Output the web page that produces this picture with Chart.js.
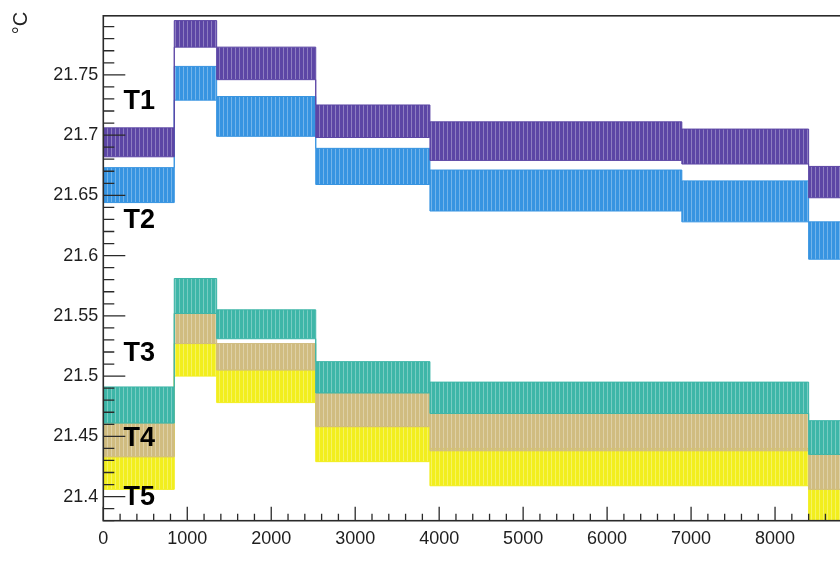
<!DOCTYPE html>
<html>
<head>
<meta charset="utf-8">
<script src="https://cdn.jsdelivr.net/npm/chart.js@4.4.1/dist/chart.umd.min.js"></script>
<style>
  html, body { margin: 0; padding: 0; background: #fff; overflow: hidden; }
  #wrap { width: 905px; height: 562px; }
</style>
</head>
<body>
<div id="wrap"><canvas id="tempChart"></canvas></div>
<script>
// Dados: início de cada patamar (eixo x) e faixa (mín/máx) de cada sensor
const stepStarts = [0, 845, 1350, 2530, 3890, 6890, 8400];
const runEnd = 9500;

const seriesNames = ['T1', 'T2', 'T3', 'T4', 'T5'];
const t1Low  = [21.682, 21.773, 21.746, 21.698, 21.679, 21.676, 21.648];
const t1High = [21.706, 21.795, 21.773, 21.725, 21.711, 21.705, 21.674];
const t2Low  = [21.644, 21.729, 21.699, 21.659, 21.637, 21.628, 21.597];
const t2High = [21.673, 21.757, 21.732, 21.689, 21.671, 21.662, 21.628];
const t3Low  = [21.461, 21.552, 21.531, 21.486, 21.469, 21.469, 21.435];
const t3High = [21.491, 21.581, 21.555, 21.512, 21.495, 21.495, 21.463];
const t4Low  = [21.433, 21.527, 21.505, 21.458, 21.438, 21.438, 21.406];
const t4High = [21.461, 21.552, 21.527, 21.486, 21.469, 21.469, 21.435];
const t5Low  = [21.406, 21.500, 21.478, 21.429, 21.409, 21.409, 21.377];
const t5High = [21.433, 21.527, 21.505, 21.458, 21.440, 21.440, 21.406];

// Posição dos rótulos T1..T5 (em unidades dos eixos)
const labelX = 240;
const labelY = [21.728, 21.629, 21.519, 21.448, 21.399];

const xTicks = [0, 1000, 2000, 3000, 4000, 5000, 6000, 7000, 8000];
const yTicks = [21.4, 21.45, 21.5, 21.55, 21.6, 21.65, 21.7, 21.75];

const lows = [t1Low, t2Low, t3Low, t4Low, t5Low];
const highs = [t1High, t2High, t3High, t4High, t5High];
const colors = [[92, 70, 165], [55, 148, 225], [62, 182, 168], [208, 188, 128], [242, 238, 30]];

function rgb(c, a) {
    return 'rgba(' + c[0] + ',' + c[1] + ',' + c[2] + ',' + (a === undefined ? 1 : a) + ')';
}

// Textura vertical leve para lembrar o ruído das medições
function stripePattern(c) {
    const p = document.createElement('canvas');
    p.width = 4;
    p.height = 1;
    const pc = p.getContext('2d');
    pc.fillStyle = rgb(c);
    pc.fillRect(0, 0, 3, 1);
    pc.fillStyle = rgb(c, 0.7);
    pc.fillRect(3, 0, 1, 1);
    return document.getElementById('tempChart').getContext('2d').createPattern(p, 'repeat');
}

function bandPoints(values) {
    const pts = stepStarts.map((x, i) => ({ x: x, y: values[i] }));
    pts.push({ x: runEnd, y: values[values.length - 1] });
    return pts;
}

const datasets = [];
seriesNames.forEach((name, i) => {
    // ordem: T5 por cima, T1 por baixo
    datasets.push({
        label: name + ' max',
        data: bandPoints(highs[i]),
        borderColor: rgb(colors[i]),
        backgroundColor: stripePattern(colors[i]),
        borderWidth: 1,
        pointRadius: 0,
        stepped: 'before',
        fill: '+1',
        order: i + 1
    });
    datasets.push({
        label: name + ' min',
        data: bandPoints(lows[i]),
        borderColor: rgb(colors[i]),
        borderWidth: 1,
        pointRadius: 0,
        stepped: 'before',
        fill: false,
        order: i + 1
    });
});

// Moldura, marcas de escala internas (estilo ROOT), rótulos e unidade
const frameAndTicks = {
    id: 'frameAndTicks',
    afterDatasetsDraw(chart) {
        const ctx = chart.ctx;
        const area = chart.chartArea;
        const xs = chart.scales.x;
        const ys = chart.scales.y;
        ctx.save();
        ctx.strokeStyle = '#2a2a2a';
        ctx.lineWidth = 1.6;
        ctx.strokeRect(area.left, area.top, area.right - area.left, area.bottom - area.top);

        ctx.lineWidth = 1.3;
        ctx.beginPath();
        for (let v = 0; v <= xs.max; v += 200) {
            const px = xs.getPixelForValue(v);
            const len = v % 1000 === 0 ? 14 : 7;
            ctx.moveTo(px, area.bottom);
            ctx.lineTo(px, area.bottom - len);
        }
        for (let k = Math.ceil(ys.min * 100); k <= Math.floor(ys.max * 100); k++) {
            const py = ys.getPixelForValue(k / 100);
            const len = k % 5 === 0 ? 22 : 11;
            ctx.moveTo(area.left, py);
            ctx.lineTo(area.left + len, py);
        }
        ctx.stroke();

        ctx.fillStyle = '#000';
        ctx.font = 'bold 27px "Liberation Sans", Arial, sans-serif';
        ctx.textAlign = 'left';
        ctx.textBaseline = 'middle';
        seriesNames.forEach((name, i) => {
            ctx.fillText(name, xs.getPixelForValue(labelX), ys.getPixelForValue(labelY[i]));
        });

        ctx.font = '20px "Liberation Sans", Arial, sans-serif';
        ctx.fillStyle = '#222';
        ctx.translate(21, 23);
        ctx.rotate(-Math.PI / 2);
        ctx.textAlign = 'center';
        ctx.fillText('°C', 0, 0);
        ctx.restore();
    }
};

const ctx = document.getElementById('tempChart').getContext('2d');
const tempChart = new Chart(ctx, {
    type: 'line',
    data: { datasets: datasets },
    options: {
        responsive: true,
        maintainAspectRatio: false,
        animation: false,
        devicePixelRatio: 1,
        layout: { padding: { top: 14, right: 4, left: 0, bottom: 0 } },
        plugins: {
            legend: { display: false },
            tooltip: { enabled: false },
            filler: { propagate: false }
        },
        scales: {
            x: {
                type: 'linear',
                min: 0,
                max: runEnd,
                grid: { display: false, drawTicks: false },
                border: { display: false },
                afterBuildTicks: scale => { scale.ticks = xTicks.map(v => ({ value: v })); },
                afterFit: scale => { scale.height = 41.3; },
                ticks: {
                    autoSkip: false,
                    maxRotation: 0,
                    padding: 8,
                    color: '#1e1e1e',
                    font: { family: '"Liberation Sans", Arial, sans-serif', size: 18 },
                    callback: v => String(v)
                }
            },
            y: {
                type: 'linear',
                min: 21.38,
                max: 21.799,
                grid: { display: false, drawTicks: false },
                border: { display: false },
                afterBuildTicks: scale => { scale.ticks = yTicks.map(v => ({ value: v })); },
                afterFit: scale => { scale.width = 103.3; },
                ticks: {
                    padding: 5,
                    color: '#1e1e1e',
                    font: { family: '"Liberation Sans", Arial, sans-serif', size: 18 },
                    callback: v => String(Number(v.toFixed(2)))
                }
            }
        }
    },
    plugins: [frameAndTicks]
});
</script>
</body>
</html>
